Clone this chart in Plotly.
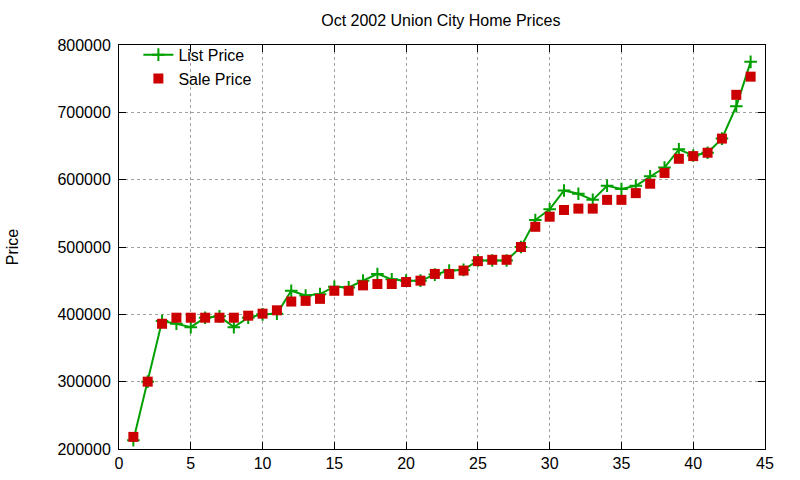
import plotly.graph_objects as go

font_family = "Liberation Sans, Arial, sans-serif"

# month index 1..44
idx = list(range(1, 45))
list_price = [213000, 300000, 390000, 386000, 381000, 395000, 397000, 381000, 395000, 400000,
              401000, 435000, 428000, 430000, 441000, 440000, 450000, 460000, 452000, 450000,
              450000, 459000, 465000, 466000, 480000, 480000, 480000, 500000, 540000, 556000,
              584000, 579000, 570000, 591000, 586000, 591000, 605000, 618000, 645000, 636000,
              640000, 661000, 709000, 775000]
sale_price = [218000, 300000, 386000, 395000, 395000, 395000, 395000, 395000, 398000, 401000,
              406000, 419000, 420000, 423000, 435000, 435000, 443000, 445000, 445000, 448000,
              450000, 460000, 460000, 465000, 479000, 481000, 481000, 500000, 530000, 545000,
              555000, 557000, 557000, 570000, 570000, 580000, 594000, 610000, 631000, 635000,
              640000, 661000, 726000, 753000]

fig = go.Figure()
fig.add_trace(go.Scatter(
    x=idx, y=list_price, name="List Price", mode="lines+markers",
    line=dict(color="#00a000", width=2),
    marker=dict(symbol="cross-thin", size=9, line=dict(color="#00a000", width=2))))
fig.add_trace(go.Scatter(
    x=idx, y=sale_price, name="Sale Price", mode="markers",
    marker=dict(symbol="square", size=10, color="#cc0000")))

axis_common = dict(showline=True, linecolor="black", linewidth=1, mirror="ticks",
                   ticks="inside", ticklen=7, tickcolor="black", automargin=False,
                   showgrid=True, gridcolor="#a0a0a0", griddash="dot", gridwidth=1,
                   zeroline=False, tickfont=dict(size=16, color="black"))

fig.update_layout(
    width=800, height=480,
    margin=dict(l=119, r=35, t=45, b=31),
    paper_bgcolor="white", plot_bgcolor="white",
    font=dict(family=font_family, color="black"),
    title=dict(text="Oct 2002 Union City Home Prices", x=0.551, xanchor="center",
               y=0.958, yanchor="middle", font=dict(size=16)),
    xaxis=dict(range=[0, 45], dtick=5, tick0=0, **axis_common),
    yaxis=dict(range=[200000, 800000], dtick=100000, tickformat="d", ticklabelstandoff=4,
               title=dict(text="Price", standoff=34, font=dict(size=16)), **axis_common),
    legend=dict(x=0.03, y=1.018, xanchor="left", yanchor="top", bgcolor="rgba(0,0,0,0)",
                font=dict(size=16), tracegroupgap=0),
    showlegend=True,
)

# page body has a default 8px margin; drop it so the figure sits at 0,0
fig.write_html("out.html", config={"displayModeBar": False},
               post_script="document.body.style.margin='0';")
